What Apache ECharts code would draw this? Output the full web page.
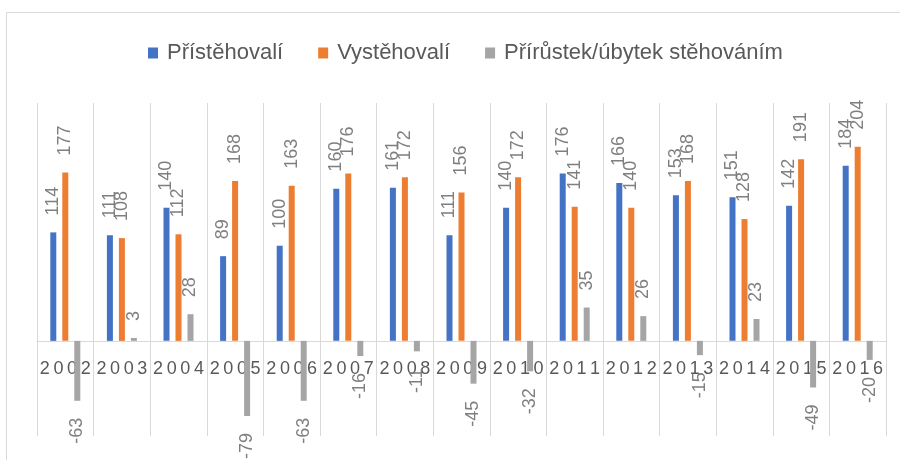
<!DOCTYPE html>
<html style="height: 100%">
   <head>
       <meta charset="utf-8">
   </head>
   <body style="height: 100%; margin: 0">
       <div id="container" style="height: 460px; width: 900px"></div>
       <script type="text/javascript" src="https://cdn.jsdelivr.net/npm/echarts/dist/echarts.min.js"></script>
       <script type="text/javascript">
var years = ['2002','2003','2004','2005','2006','2007','2008','2009','2010','2011','2012','2013','2014','2015','2016'];
var prist = [114,111,140,89,100,160,161,111,140,176,166,153,151,142,184];
var vyst = [177,108,112,168,163,176,172,156,172,141,140,168,128,191,204];
var saldo = [-63,3,28,-79,-63,-16,-11,-45,-32,35,26,-15,23,-49,-20];
var yMin = -100, yMax = 250;

var dom = document.getElementById("container");
var myChart = echarts.init(dom);
var fontName = 'Liberation Sans';
var gridTop = 103, gridBottom = 24, chartH = 460;

function withLabels(arr) {
    var out = [];
    for (var i = 0; i < arr.length; i++) {
        var neg = arr[i] < 0;
        out.push({
            value: arr[i],
            label: {position: neg ? 'bottom' : 'top', align: neg ? 'right' : 'left'}
        });
    }
    return out;
}

// spread the digits of the year like the original
function spaced(s) {
    return s.split('').join('\u2009');
}

// distance from the grid bottom up to the zero line
var plotH = chartH - gridTop - gridBottom;
var zeroOffset = -plotH * (0 - yMin) / (yMax - yMin);

var barLabel = {
    show: true,
    rotate: 90,
    distance: 17,
    verticalAlign: 'middle',
    color: '#7f7f7f',
    fontSize: 18,
    fontFamily: fontName
};

var option = {
    animation: false,
    graphic: [{
        type: 'rect',
        shape: {x: 6.5, y: 12.5, width: 1000, height: 1000},
        style: {fill: 'none', stroke: '#d9d9d9', lineWidth: 1}
    }],
    legend: {
        top: 37,
        left: 143,
        icon: 'rect',
        itemWidth: 10,
        itemHeight: 11,
        itemGap: 35,
        textStyle: {color: '#595959', fontSize: 22, fontFamily: fontName, padding: [0, 0, 0, 4]},
        data: ['Přístěhovalí', 'Vystěhovalí', 'Přírůstek/úbytek stěhováním']
    },
    grid: {
        top: gridTop,
        left: 37,
        right: 14,
        bottom: gridBottom,
        outerBoundsMode: 'none',
        containLabel: false
    },
    xAxis: [{
        type: 'category',
        data: years,
        position: 'bottom',
        offset: zeroOffset,
        axisLine: {onZero: false, lineStyle: {color: '#d9d9d9'}},
        axisTick: {show: false},
        axisLabel: {
            interval: 0,
            margin: 19,
            color: '#595959',
            fontSize: 18,
            fontFamily: fontName,
            formatter: spaced
        },
        splitLine: {show: true, interval: 0, lineStyle: {color: '#d9d9d9'}}
    }],
    yAxis: {
        type: 'value',
        min: yMin,
        max: yMax,
        show: false,
        splitLine: {show: false}
    },
    series: [
        {
            name: 'Přístěhovalí',
            type: 'bar',
            barWidth: 6,
            barGap: '100%',
            itemStyle: {color: '#4472c4'},
            label: barLabel,
            data: withLabels(prist)
        },
        {
            name: 'Vystěhovalí',
            type: 'bar',
            barWidth: 6,
            barGap: '100%',
            itemStyle: {color: '#ed7d31'},
            label: barLabel,
            data: withLabels(vyst)
        },
        {
            name: 'Přírůstek/úbytek stěhováním',
            type: 'bar',
            barWidth: 6,
            barGap: '100%',
            itemStyle: {color: '#a5a5a5'},
            label: barLabel,
            data: withLabels(saldo)
        }
    ]
};

myChart.setOption(option, true);
       </script>
   </body>
</html>
